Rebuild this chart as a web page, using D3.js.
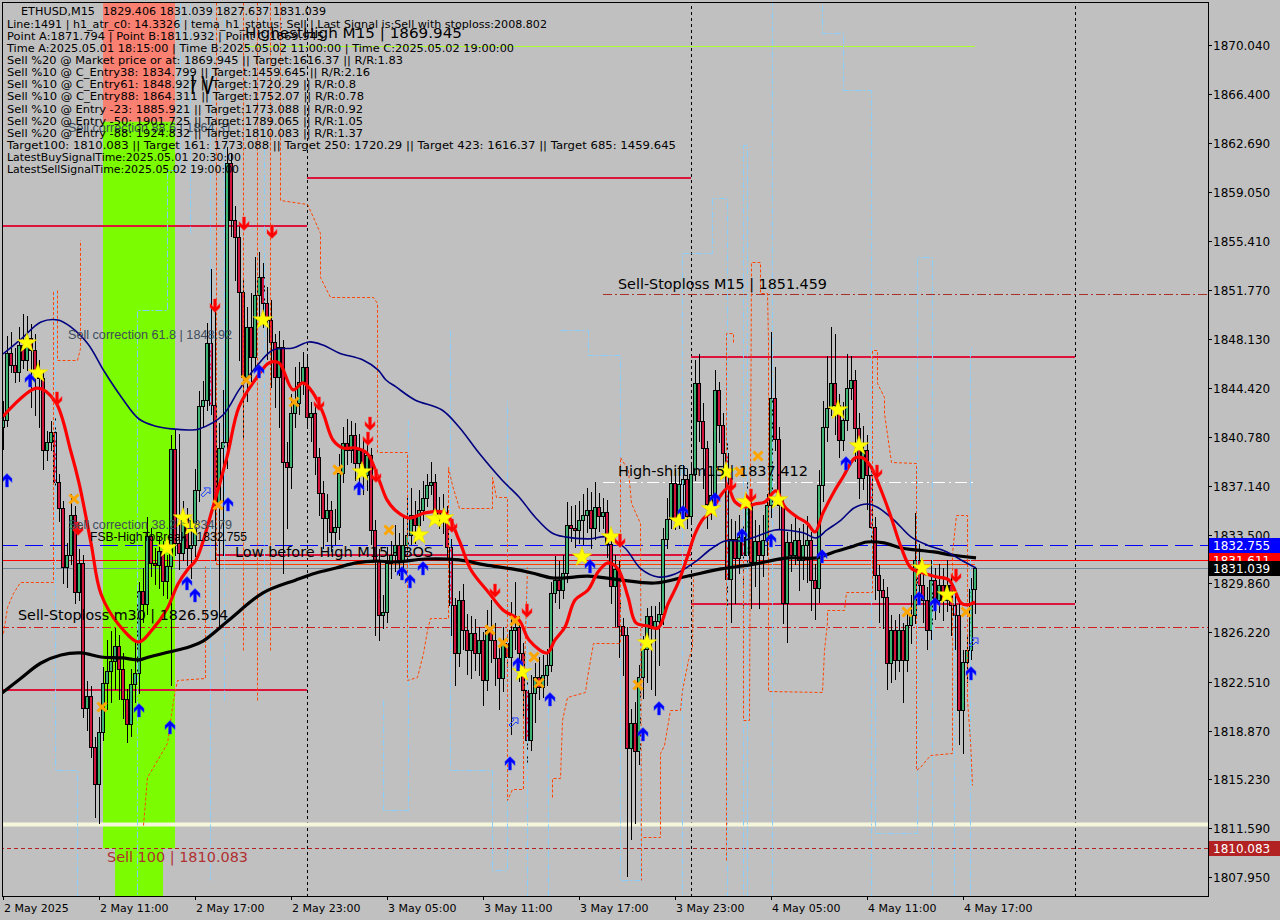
<!DOCTYPE html>
<html><head><meta charset="utf-8">
<script src="https://cdn.jsdelivr.net/npm/d3@7"></script>
<style>html,body{margin:0;padding:0;background:#c0c0c0;}svg{display:block}</style>
</head><body><svg id="c" width="1280" height="920"></svg>
<script>
// ===== DATA =====
const firstOpen = 1841.50;
const closes = [1842.06,1847.06,1846.16,1845.64,1847.65,1846.53,1848.18,1847.28,1845.79,1845.19,
1839.82,1840.42,1841.16,1837.43,1835.49,1831.09,1831.98,1834.97,1829.22,1831.39,
1820.56,1821.46,1817.65,1814.89,1818.77,1822.43,1823.33,1824.07,1825.19,1823.48,
1821.24,1819.37,1822.36,1823.18,1829.30,1828.33,1833.40,1831.39,1831.24,1832.28,
1830.04,1831.16,1839.89,1832.88,1832.13,1834.97,1832.50,1832.73,1836.83,1843.10,
1843.55,1847.80,1843.18,1835.86,1839.97,1840.42,1861.24,1856.98,1855.71,1851.61,
1845.27,1849.00,1846.76,1851.39,1852.73,1850.79,1849.52,1847.88,1845.27,1847.50,
1838.92,1838.55,1842.58,1843.33,1844.89,1846.01,1842.28,1842.58,1839.30,1836.61,
1834.74,1835.34,1833.70,1834.07,1838.10,1840.34,1839.82,1840.94,1838.85,1839.82,
1837.95,1839.45,1833.85,1831.61,1827.50,1827.73,1831.39,1831.98,1832.73,1831.61,
1832.73,1833.48,1834.97,1834.22,1835.34,1836.24,1837.21,1837.43,1835.19,1834.97,
1834.59,1832.58,1828.25,1824.67,1828.62,1826.39,1824.89,1826.16,1824.67,1825.64,
1822.65,1826.39,1825.64,1824.30,1822.80,1825.42,1824.37,1826.39,1826.61,1824.67,
1821.91,1818.18,1821.68,1822.88,1822.13,1823.03,1823.77,1829.15,1830.12,1829.37,
1830.64,1834.22,1834.00,1833.85,1834.59,1834.97,1835.34,1834.00,1835.56,1834.89,
1835.19,1832.80,1829.67,1830.94,1826.68,1826.01,1817.58,1819.45,1817.36,1822.88,
1824.97,1827.43,1826.53,1827.06,1827.58,1833.18,1834.67,1837.36,1834.67,1837.28,
1837.65,1834.89,1838.03,1844.82,1841.98,1839.97,1835.79,1836.46,1844.30,1841.68,
1839.59,1830.19,1833.18,1831.76,1833.33,1831.98,1835.71,1831.46,1833.03,1831.98,
1833.10,1835.71,1843.70,1840.64,1835.71,1828.40,1832.95,1831.98,1833.10,1831.61,
1832.73,1833.10,1830.12,1829.52,1837.21,1841.53,1842.95,1844.82,1843.18,1840.56,
1842.06,1844.45,1845.04,1841.46,1837.73,1839.82,1837.95,1834.07,1830.49,1829.37,
1828.85,1823.92,1826.39,1824.15,1826.39,1824.15,1826.76,1827.50,1831.61,1829.74,
1828.62,1826.39,1830.12,1828.62,1829.74,1828.62,1829.74,1828.25,1827.50,1820.42,
1824.00,1824.89,1829.406,1831.039];
const highs = [1843.5,1848.3,1848.6,1847.4,1849.0,1850.0,1849.8,1849.2,1848.5,1846.5,
1845.8,1841.2,1842.0,1842.2,1838.0,1836.0,1832.9,1836.5,1835.6,1832.4,
1832.0,1822.6,1822.2,1818.4,1819.9,1823.6,1825.6,1826.3,1826.5,1826.0,
1824.7,1822.0,1823.5,1825.5,1830.0,1831.0,1834.8,1834.0,1832.5,1833.3,
1833.0,1832.0,1840.9,1841.3,1841.0,1836.0,1835.5,1834.0,1838.4,1844.2,
1845.0,1849.3,1853.3,1850.8,1841.8,1844.3,1862.4,1862.0,1858.0,1856.5,
1852.5,1850.5,1851.5,1854.2,1854.6,1853.8,1852.0,1851.0,1848.5,1848.7,
1848.0,1840.4,1844.0,1846.0,1846.4,1847.1,1847.0,1843.4,1843.2,1840.0,
1837.5,1836.5,1836.0,1835.4,1839.5,1841.5,1842.1,1842.0,1841.8,1841.0,
1840.7,1840.2,1840.0,1834.6,1832.4,1829.0,1832.6,1833.0,1834.2,1833.6,
1835.0,1836.2,1837.0,1836.0,1836.8,1837.5,1838.0,1838.9,1838.0,1836.3,
1836.5,1835.6,1833.2,1828.8,1829.3,1829.8,1827.6,1827.4,1827.2,1826.6,
1826.2,1827.9,1828.6,1826.9,1825.2,1826.6,1826.3,1828.5,1830.0,1827.4,
1825.4,1822.6,1823.0,1823.9,1824.4,1824.5,1825.0,1830.0,1831.9,1831.5,
1832.0,1835.9,1835.6,1835.7,1836.0,1836.5,1837.0,1836.7,1837.4,1836.6,
1836.2,1836.1,1833.6,1832.0,1831.5,1827.3,1826.6,1820.5,1821.0,1823.8,
1825.9,1828.0,1828.2,1828.2,1828.5,1834.0,1836.2,1838.3,1838.3,1838.6,
1838.7,1838.4,1838.8,1846.5,1847.0,1843.3,1840.5,1838.0,1845.8,1844.9,
1842.6,1840.4,1834.7,1834.5,1835.0,1834.5,1837.5,1836.8,1834.6,1834.2,
1835.0,1836.5,1848.6,1846.0,1841.5,1836.3,1833.7,1834.3,1834.8,1834.0,
1834.3,1834.9,1833.7,1831.3,1838.3,1843.5,1846.8,1849.0,1848.5,1844.0,
1843.4,1847.0,1846.8,1845.8,1842.6,1841.6,1840.9,1838.5,1834.8,1831.2,
1830.2,1829.6,1827.5,1827.1,1827.6,1826.9,1827.9,1829.0,1835.1,1832.8,
1831.2,1829.6,1831.6,1831.0,1831.3,1831.0,1831.6,1830.5,1829.0,1828.6,
1824.9,1826.0,1830.3,1831.039];
const lows = [1839.9,1841.6,1845.6,1844.9,1845.0,1845.9,1845.8,1843.0,1842.4,1841.5,
1838.4,1839.1,1839.8,1836.8,1834.5,1829.9,1829.6,1831.3,1828.4,1828.6,
1819.9,1818.9,1816.9,1812.4,1812.0,1818.2,1820.5,1821.0,1822.0,1821.2,
1819.8,1818.0,1818.5,1821.0,1821.7,1827.0,1827.6,1830.4,1829.8,1829.5,
1829.0,1828.8,1822.3,1832.0,1830.9,1831.6,1831.2,1830.3,1831.9,1836.0,
1841.6,1842.8,1842.5,1831.6,1826.6,1832.0,1838.5,1855.8,1852.5,1846.5,
1840.8,1843.5,1845.0,1845.8,1849.8,1849.0,1846.6,1844.5,1843.0,1841.5,
1830.6,1834.0,1837.0,1841.5,1842.5,1844.0,1841.6,1840.5,1838.0,1835.0,
1832.5,1833.0,1832.3,1832.8,1833.2,1837.4,1838.8,1838.9,1837.6,1837.4,
1836.5,1836.8,1832.8,1826.0,1825.6,1826.5,1827.0,1830.3,1830.8,1830.5,
1830.9,1831.5,1832.8,1832.9,1833.5,1834.6,1835.6,1836.5,1834.5,1834.0,
1833.6,1831.8,1826.0,1822.3,1823.7,1825.0,1823.1,1822.8,1823.4,1823.0,
1820.8,1821.9,1824.0,1822.3,1820.5,1821.8,1823.0,1818.6,1825.0,1822.6,
1820.0,1816.5,1817.4,1819.5,1821.2,1821.4,1822.3,1823.3,1828.5,1828.0,
1828.8,1830.0,1833.0,1832.6,1832.9,1832.8,1833.7,1832.5,1833.2,1833.8,
1834.0,1831.8,1828.4,1826.7,1824.4,1823.0,1808.0,1810.8,1812.0,1816.4,
1821.3,1822.5,1822.0,1821.5,1823.8,1826.8,1832.5,1834.0,1833.9,1834.0,
1835.5,1834.0,1834.5,1837.6,1840.5,1837.0,1834.0,1834.7,1836.0,1840.4,
1837.8,1828.2,1827.0,1828.4,1830.6,1828.0,1831.3,1828.0,1829.7,1828.0,
1830.4,1832.0,1834.8,1839.8,1834.0,1826.9,1825.5,1830.8,1831.3,1829.4,
1830.2,1830.0,1827.9,1827.2,1828.5,1836.0,1840.5,1842.4,1841.0,1839.3,
1839.8,1841.3,1843.6,1839.0,1836.2,1836.9,1835.4,1832.6,1828.7,1827.0,
1826.5,1822.0,1822.5,1822.7,1823.3,1821.0,1823.3,1825.4,1826.9,1828.4,
1827.0,1825.0,1825.7,1827.2,1827.7,1827.1,1827.8,1826.0,1825.0,1817.9,
1817.2,1822.5,1824.2,1827.637];

const timeLabelBars = [0,24,48,72,96,120,144,168,192,216,240];
const timeLabels = ["2 May 2025","2 May 11:00","2 May 17:00","2 May 23:00","3 May 05:00","3 May 11:00","3 May 17:00","3 May 23:00","4 May 05:00","4 May 11:00","4 May 17:00"];
const priceTicks = [1870.040,1866.400,1862.690,1859.050,1855.410,1851.770,1848.130,1844.420,1840.780,1837.140,1833.500,1829.860,1826.220,1822.510,1818.870,1815.230,1811.590,1807.950];
const daySeparatorBars = [76,172,268];

const temaLine = [[0,1842.31],[8.5,1844.44],[13,1843.47],[17,1839.67],[19,1837.36],[22,1832.88],[24.5,1829.07],[29,1826.76],[34,1825.49],[37.25,1826.39],[41,1827.95],[43.75,1829.82],[46.25,1830.94],[48.25,1831.61],
[52.5,1835.56],[56,1839.30],[59,1843.03],[63,1845.04],[66.5,1846.31],[69,1846.31],[72.5,1844.30],[75,1844.82],[77.5,1844.07],[80,1842.58],[82.5,1840.56],[85,1839.97],[88,1839.97],[91,1839.59],[94,1837.58],[96,1836.09],[98,1835.34],
[101.5,1834.74],[105.5,1835.12],[110.5,1835.12],[114,1833.10],[117,1830.86],[121.5,1829.15],[125,1827.88],[129,1827.13],[131.5,1825.64],[136,1824.67],[138,1825.64],[140.5,1826.61],[143,1828.62],
[146.25,1829.37],[148.75,1830.71],[151.25,1831.39],[153.75,1830.94],[156.25,1828.85],[158.25,1826.91],[161.25,1826.68],[163.75,1826.53],[166.25,1828.33],[168.75,1829.89],[171.25,1831.98],[173,1833.55],[175,1834.67],[177,1835.19],[179.5,1836.46],[181.25,1836.98],[183,1835.94],[185.5,1835.56],[188,1835.79],[190.5,1835.94],[193.25,1836.76],
[195.5,1835.56],[198.5,1834.82],[201,1834.37],[203,1833.70],[205,1835.12],[208,1836.83],[210,1837.80],[213,1839.22],[215,1839.22],[217,1838.55],[219.5,1836.83],[222,1834.82],[224.5,1832.58],[227,1831.01],[230,1830.64],[233.5,1830.34],[236.5,1830.12],[239.5,1828.40],[241,1828.25],[243,1828.48]];
const navyLine = [[0,1846.98],[4.3,1848.03],[9.5,1849.37],[13.75,1849.52],[17,1848.99],[21.25,1847.73],[25.25,1845.71],[29.75,1843.70],[34,1842.13],[38,1841.61],[42.25,1841.39],[46.75,1841.31],[49,1841.39],
[55,1842.43],[59,1844.30],[63.25,1846.01],[67.5,1847.28],[72.5,1847.43],[76.5,1847.88],[80,1847.65],[84,1847.06],[90,1846.53],[93.75,1845.79],[95.75,1845.04],[98.25,1844.52],
[103,1843.55],[109.75,1842.80],[114,1841.53],[119,1839.59],[124.75,1837.58],[129,1836.31],[133,1834.82],[137.25,1833.62],[140.5,1833.33],
[146.25,1833.18],[151.25,1833.33],[155.5,1832.50],[159.5,1830.94],[163.75,1830.34],[168,1830.56],[173,1831.46],[177,1832.43],[180.5,1833.03],[184.5,1833.03],[188,1833.33],[193,1833.85],
[195.25,1833.85],[200.25,1833.62],[203.25,1833.25],[206,1833.85],[209.5,1834.59],[212.75,1835.49],[216,1835.79],[218.5,1835.56],[222.75,1834.59],[227,1833.33],[231,1832.73],[236,1832.21],[239.5,1831.61],[243.25,1831.01]];
const slowLine = [[-1,1821.5],[4.25,1822.73],[9.5,1823.92],[14.5,1824.52],[19.5,1824.67],[24.5,1824.37],[29.75,1824.30],[34,1824.15],[36.5,1824.37],[41.5,1824.74],[46.5,1825.12],[50,1825.56],
[56.5,1827.13],[65,1829.15],[73.25,1830.12],[78.25,1830.64],[83.25,1831.01],[88.25,1831.39],[93.25,1831.53],[98.25,1831.46],
[105.5,1831.68],[114,1831.61],[120.5,1831.24],[127.25,1830.94],[132.25,1830.64],[137.25,1830.27],[140.5,1830.27],
[146.25,1830.41],[154.25,1830.12],[163,1829.89],[171.25,1830.41],[179.5,1830.94],[186.75,1831.24],[196.25,1831.76],
[203.5,1831.76],[207.75,1832.21],[212,1832.58],[216,1832.95],[220.25,1832.88],[224.5,1832.50],[228.5,1832.35],[232.75,1832.21],[237,1831.98],[243.25,1831.76]];

const orangePaths = [
 [[0,1826.16],[1,1828.10],[2.5,1829.15],[4.25,1829.97],[12.5,1829.97],[12.5,1851.76]],
 [[13.5,1851.76],[13.5,1846.53],[18.5,1846.53],[19.25,1847.43],[19.25,1855.49]],
 [[35,1811.83],[36,1815.42],[39.25,1817.06],[41,1817.95],[42.5,1821.16],[43.5,1822.65],[50.5,1822.80],[50.5,1831.16]],
 [[53.25,1874],[53.25,1831.31]],
 [[60,1874],[60,1824.89]],
 [[63.5,1874],[63.5,1821.16]],
 [[66.75,1874],[66.75,1824.89]],
 [[69.25,1874],[69.25,1858.47],[76,1858.18],[77.5,1857.21],[79.25,1856.01],[79.25,1852.73],[81.75,1851.24],[92.5,1851.24],[93.5,1850.79],[93.5,1839.67],[101,1839.67],[101,1822.65],[103.5,1822.88],[105,1824.67],[106,1826.39],[106.75,1827.28],[111.25,1827.28],[111.25,1838.55],[112.25,1837.21],[114,1835.49],[122.25,1835.49],[122.25,1837.80],[123.25,1836.31],[126,1836.31],[126,1813.70],[127.25,1814.52],[130,1814.52],[130,1820.94],[131,1831.09]],
 [[137.25,1813.92],[137.25,1815.34],[139.25,1815.34],[139.75,1819.67],[141,1821.39],[145.5,1821.76],[146,1822.88],[147.5,1825.42],[154.25,1825.42],[154.25,1839.30],[156.25,1838.33],[157,1835.86],[159.25,1834.37],[159.5,1807.73]],
 [[160,1810.94],[164.25,1810.94],[164.25,1817.21],[165.25,1817.80],[166.75,1820.42],[169.25,1820.42],[169.75,1821.91],[171.25,1824.15],[172.25,1825.12],[172.5,1830.42]],
 [[180.75,1809.22],[180.75,1848.55],[182.5,1848.55],[182.5,1847.80]],
 [[185,1831.61],[185,1819.67],[186.5,1819.67],[187,1853.85],[189.25,1853.85],[189.25,1851.53],[191,1851.53],[191.25,1848.03],[191.25,1821.83],[204.75,1821.76],[205.25,1824.89],[206,1826.98],[206,1827.88],[210.25,1827.88],[210.75,1829.22],[217.25,1829.22],[217.25,1847.28],[218.5,1847.28],[218.5,1844.82],[220.25,1843.77],[220.25,1842.58],[222,1838.92],[228.25,1838.85],[228.25,1815.94],[229.25,1816.16],[231.75,1817.06],[237.25,1817.21],[237.25,1832.13],[238.25,1834.97],[241,1834.97],[241,1821.16],[241.75,1818.18],[242.25,1814.82]]
];
const lightBluePaths = [
 [[13,1851.76],[13,1815.94],[18.5,1815.94],[18.5,1806]],
 [[33.5,1806],[33.5,1850.27],[41,1850.27],[41,1860.71],[44.25,1860.71],[44.25,1874]],
 [[46.75,1874],[46.75,1856.01]],
 [[51.75,1874],[51.75,1807.73]],
 [[55.25,1874],[55.25,1821.16]],
 [[65.25,1874],[65.25,1825.64]],
 [[95,1821.16],[95,1812.95],[101.25,1812.95],[101.25,1842.06]],
 [[111.75,1848.77],[111.75,1815.94],[122.25,1815.94],[122.25,1808.48],[126,1808.48],[126,1843.55]],
 [[131,1830.12],[131,1806]],
 [[136.25,1820.64],[136.25,1806]],
 [[139.25,1848.77],[146.25,1848.77],[146.25,1846.91],[154.25,1846.91],[154.25,1807.73],[159.25,1807.73],[159.25,1830.12]],
 [[169.75,1806],[169.75,1854.52],[177.25,1854.52],[177.25,1858.62],[181,1858.62],[181,1806]],
 [[185,1806],[185,1862.58],[186,1862.58],[186,1806]],
 [[192.25,1806],[192.25,1873.18]],
 [[204.75,1874],[204.75,1870.94],[210,1870.94],[210,1866.68],[217,1866.68],[217,1806]],
 [[218,1824.89],[218,1811.24],[228.5,1811.24],[228.5,1854.22],[232.25,1854.22],[232.25,1806]],
 [[237.75,1830.12],[237.75,1806]],
 [[241.75,1806],[241.75,1847.28],[242.5,1847.65]]
];

const stars = [[6,1847.80],[8.75,1845.56],[41,1832.50],[45,1834.74],[47,1834.07],[65,1849.52],[89.75,1838.18],[104,1833.47],[108,1834.67],[110.25,1834.74],[129.75,1823.25],[144.75,1831.83],[152,1833.33],[161,1825.42],[169,1834.52],[177,1835.42],[180.75,1838.18],[185.75,1835.94],[193.75,1836.09],[208.75,1842.80],[214,1840.12],[229.75,1831.01],[236,1829.00]];
const sellArrows = [[13.5,1843.55],[18.75,1833.85],[53,1850.49],[60.25,1856.61],[67.25,1856.01],[79,1843.18],[91.75,1841.68],[91.25,1840.56],[93.25,1837.80],[112.25,1834.07],[123,1829.22],[131,1827.73],[154.25,1832.95],[182,1837.13],[187,1836.31],[218.5,1838.10],[238.25,1830.34]];
const buyArrows = [[1,1837.65],[6.75,1845.12],[34,1820.49],[41.75,1819.22],[46,1829.97],[48,1829.07],[56.25,1835.86],[64,1845.79],[89,1837.06],[99.75,1830.71],[101.75,1830.12],[105,1831.09],[126.75,1816.53],[128.75,1823.92],[136.75,1821.31],[146.75,1831.24],[160,1818.70],[164,1820.64],[170,1835.27],[178,1836.24],[184.75,1833.55],[192,1833.18],[204.75,1831.98],[210.75,1838.92],[229,1828.85],[233,1828.40],[242,1823.25]];
const crosses = [[17.75,1836.16],[24.75,1820.64],[53.75,1835.71],[60.75,1845.04],[72.75,1843.40],[83.75,1838.33],[96.5,1833.85],[121.75,1826.39],[125,1825.42],[128,1827.06],[132.75,1824.37],[134,1822.43],[158.75,1822.28],[184.25,1838.18],[188.75,1839.37],[226,1827.73],[240.75,1827.73]];
const hollowArrows = [[50.75,1836.69],[127.75,1819.52],[242.75,1825.49]];

const sessionLevels = [{from:-1,to:76,price:1856.53},{from:76,to:172,price:1860.12},{from:172,to:268,price:1846.76},{from:-1,to:76,price:1821.91},{from:172,to:268,price:1828.33}];
const levelBlue = 1832.755, levelRed = 1831.611, levelBid = 1831.039, levelSLm30 = 1826.594,
      levelPointB = 1811.932, levelSell100 = 1810.083, levelSLM15 = 1851.459, levelHighShift = 1837.412,
      levelHighest = 1869.945, levelLBH = 1831.95, levelLBHorange = 1831.31, levelEntry88 = 1864.311;
const bandBars = [25,43], bandNarrowBars = [28,40];

const infoLines = [
 "Line:1491 | h1_atr_c0: 14.3326 | tema_h1_status: Sell | Last Signal is:Sell with stoploss:2008.802",
 "Point A:1871.794 | Point B:1811.932 | Point C:1869.945",
 "Time A:2025.05.01 18:15:00 | Time B:2025.05.02 11:00:00 | Time C:2025.05.02 19:00:00",
 "Sell %20 @ Market price or at: 1869.945 || Target:1616.37 || R/R:1.83",
 "Sell %10 @ C_Entry38: 1834.799 || Target:1459.645 || R/R:2.16",
 "Sell %10 @ C_Entry61: 1848.927 || Target:1720.29 || R/R:0.8",
 "Sell %10 @ C_Entry88: 1864.311 || Target:1752.07 || R/R:0.78",
 "Sell %10 @ Entry -23: 1885.921 || Target:1773.088 || R/R:0.92",
 "Sell %20 @ Entry -50: 1901.725 || Target:1789.065 || R/R:1.05",
 "Sell %20 @ Entry -88: 1924.832 || Target:1810.083 || R/R:1.37",
 "Target100: 1810.083 || Target 161: 1773.088 || Target 250: 1720.29 || Target 423: 1616.37 || Target 685: 1459.645",
 "LatestBuySignalTime:2025.05.01 20:30:00",
 "LatestSellSignalTime:2025.05.02 19:00:00"];
const infoWidths = [540,317,507,396,363,349,357,356,356,356,669,234,232];

// ===== DRAW =====
const svg = d3.select("#c");
const W = 1280, H = 920, PR = 1208, PB = 896;
const x = d3.scaleLinear().domain([0,243]).range([3,975]);
const y = d3.scaleLinear().domain([1807.95,1870.04]).range([877,45]);
const FONT = "DejaVu Sans, Verdana, sans-serif";
const FONT2 = "Liberation Sans, Arial, sans-serif";

svg.append("rect").attr("width",W).attr("height",H).attr("fill","#c0c0c0");
const defs = svg.append("defs");
defs.append("clipPath").attr("id","plot").append("rect").attr("x",3).attr("y",3).attr("width",PR-3).attr("height",PB-3);
const g = svg.append("g").attr("clip-path","url(#plot)");

// bands
const bx0 = x(bandBars[0]), bx1 = x(bandBars[1]);
g.append("rect").attr("x",bx0).attr("y",0).attr("width",bx1-bx0).attr("height",y(levelEntry88)).attr("fill","#fa8072");
g.append("rect").attr("x",bx0).attr("y",y(levelEntry88)).attr("width",bx1-bx0).attr("height",y(levelSell100)-y(levelEntry88)).attr("fill","#7cfc00");
g.append("rect").attr("x",x(bandNarrowBars[0])).attr("y",y(levelSell100)).attr("width",x(bandNarrowBars[1])-x(bandNarrowBars[0])).attr("height",PB).attr("fill","#7cfc00");

const Y = v => Math.round(y(v)) + 0.5;
function hline(price, x0, x1, color, w, dash){
  const l = g.append("line").attr("x1",x0).attr("x2",x1).attr("y1",Y(price)).attr("y2",Y(price))
    .attr("stroke",color).attr("stroke-width",w);
  if(dash) l.attr("stroke-dasharray",dash);
  return l;
}
// day separators
daySeparatorBars.forEach(b=>{
  g.append("line").attr("x1",Math.round(x(b))+0.5).attr("x2",Math.round(x(b))+0.5).attr("y1",0).attr("y2",PB)
   .attr("stroke","#000").attr("stroke-dasharray","3,3");
});
// session levels
sessionLevels.forEach(s=>{
  g.append("line").attr("x1",x(s.from)).attr("x2",x(s.to)).attr("y1",Math.round(y(s.price))).attr("y2",Math.round(y(s.price)))
   .attr("stroke","#dc143c").attr("stroke-width",2);
});
hline(levelHighest, x(60.5), x(243), "#adff2f", 1);
hline(levelSLM15, x(150), PR, "#a83228", 1, "9,3,2,3");
hline(levelHighShift, x(150), x(243), "#ffffff", 1, "12,4,2,4");
hline(levelPointB, 0, PR, "#f5f5dc", 4);
hline(levelSell100, 0, PR, "#b22222", 1, "4,3");
hline(levelSLm30, 0, PR, "#d01e1e", 1, "9,3,2,3");
hline(levelBlue, 0, PR, "#0000ff", 1, "18,7");
g.append("line").attr("x1",x(53)).attr("x2",x(172)).attr("y1",Math.round(y(levelLBH))).attr("y2",Math.round(y(levelLBH))).attr("stroke","#dc143c").attr("stroke-width",2);
hline(levelRed, 0, PR, "#ff0000", 1);
hline(levelLBHorange, x(53.25), x(243), "#ff4500", 1);
hline(levelBid, 0, PR, "#778899", 1);

// candles
const cg = g.append("g");
closes.forEach((c,i)=>{
  const o = i ? closes[i-1] : firstOpen;
  const cx = Math.round(x(i));
  const hi = Math.max(highs[i], o, c), lo = Math.min(lows[i], o, c);
  cg.append("line").attr("x1",cx+0.5).attr("x2",cx+0.5).attr("y1",Math.round(y(hi))).attr("y2",Math.round(y(lo))+1)
    .attr("stroke","#000").attr("stroke-width",1);
  const top = Math.round(y(Math.max(o,c))), bot = Math.round(y(Math.min(o,c)));
  cg.append("rect").attr("x",cx-1.5).attr("y",top+0.5).attr("width",3).attr("height",Math.max(1,bot-top))
    .attr("fill", c>=o ? "#3cb371" : "#d2143c").attr("stroke","#000").attr("stroke-width",1);
});

// dashed stepped indicator lines
const pl = d3.line().x(d=>Math.round(x(d[0]))+0.5).y(d=>Math.round(y(d[1]))+0.5);
lightBluePaths.forEach(p=>g.append("path").attr("d",pl(p)).attr("fill","none").attr("stroke","#87cefa").attr("stroke-width",1).attr("stroke-dasharray","7,2,2,2"));
orangePaths.forEach(p=>g.append("path").attr("d",pl(p)).attr("fill","none").attr("stroke","#ff4500").attr("stroke-width",1).attr("stroke-dasharray","3,2"));

// moving averages
const ml = d3.line().x(d=>x(d[0])).y(d=>y(d[1])).curve(d3.curveCatmullRom.alpha(0.5));
g.append("path").attr("d",ml(slowLine)).attr("fill","none").attr("stroke","#000").attr("stroke-width",3.2);
g.append("path").attr("d",ml(navyLine)).attr("fill","none").attr("stroke","#000080").attr("stroke-width",1.6);
g.append("path").attr("d",ml(temaLine)).attr("fill","none").attr("stroke","#ff0000").attr("stroke-width",3.2);

// markers
const starSym = d3.symbol().type(d3.symbolStar).size(120)();
stars.forEach(d=>g.append("path").attr("d",starSym).attr("transform",`translate(${x(d[0])},${y(d[1])})`).attr("fill","#ffff00").attr("stroke","#e8d000").attr("stroke-width",0.6));
const downArrow = "M-1.5,-8 L1.5,-8 L1.5,0 L5,-3.5 L5,0.5 L0,5.5 L-5,0.5 L-5,-3.5 L-1.5,0 Z";
const upArrow = "M-1.5,8 L1.5,8 L1.5,0 L5,3.5 L5,-0.5 L0,-5.5 L-5,-0.5 L-5,3.5 L-1.5,0 Z";
sellArrows.forEach(d=>g.append("path").attr("d",downArrow).attr("transform",`translate(${x(d[0])},${y(d[1])})`).attr("fill","#ff0000").attr("stroke","#ff4040").attr("stroke-width",0.5));
buyArrows.forEach(d=>g.append("path").attr("d",upArrow).attr("transform",`translate(${x(d[0])},${y(d[1])})`).attr("fill","#0000ff").attr("stroke","#3050ff").attr("stroke-width",0.5));
crosses.forEach(d=>g.append("path").attr("d","M-4.5,-4.5 L4.5,4.5 M4.5,-4.5 L-4.5,4.5").attr("transform",`translate(${x(d[0])},${y(d[1])})`).attr("stroke","#ffa500").attr("stroke-width",3).attr("fill","none"));
hollowArrows.forEach(d=>g.append("path").attr("d","M-5,3 L0,-2 L-2,-4 L4,-4 L4,2 L2,0 L-3,5 Z").attr("transform",`translate(${x(d[0])},${y(d[1])})`).attr("stroke","#2040ff").attr("stroke-width",1).attr("fill","none"));

// chart texts
function label(txt, bar, price, dy, len, size, color, fam){
  g.append("text").attr("x",x(bar)).attr("y",y(price)+dy).attr("font-family",fam||FONT).attr("font-size",size)
   .attr("fill",color).attr("textLength",len).attr("lengthAdjust","spacingAndGlyphs").text(txt);
}
label("Sell correction 88.6 | 1864.31", 16.25, levelEntry88, 10.5, 164, 12, "#3d4d5d", FONT2);
label("Sell correction 61.8 | 1848.92", 16.25, 1848.92, 11, 164, 12, "#3d4d5d", FONT2);
label("Sell correction 38.2 | 1834.79", 16.25, 1834.79, 11.5, 164, 12, "#3d4d5d", FONT2);
label("FSB-HighToBreak | 1832.755", 21.75, levelBlue, -3.5, 157, 12.5, "#000", FONT2);
label("HighestHigh   M15 | 1869.945", 60.5, levelHighest, -8, 217, 14.5, "#000");
label("Sell-Stoploss M15 | 1851.459", 153.75, levelSLM15, -5, 209, 14.5, "#000");
label("High-shift m15 | 1837.412", 153.75, levelHighShift, -6, 190, 14.5, "#000");
label("Sell-Stoploss m30 | 1826.594", 3.75, levelSLm30, -7, 210, 14.5, "#000");
label("Low before High    M15 - BOS", 58, levelLBH, 1.5, 198, 14.5, "#000");
label("Sell 100 | 1810.083", 26, levelSell100, 14, 141, 14.5, "#b03030");
label("I V", 46.75, 1866.39, 0, 24, 24, "#000");

// info block
const ig = svg.append("g").attr("font-family",FONT).attr("font-size",11).attr("fill","#000");
ig.append("text").attr("x",21).attr("y",15).attr("textLength",74).attr("lengthAdjust","spacingAndGlyphs").text("ETHUSD,M15");
ig.append("text").attr("x",103).attr("y",15).attr("textLength",223).attr("lengthAdjust","spacingAndGlyphs").text("1829.406 1831.039 1827.637 1831.039");
infoLines.forEach((t,k)=>{
  ig.append("text").attr("x",7).attr("y",28+k*12.08).attr("textLength",infoWidths[k]).attr("lengthAdjust","spacingAndGlyphs").text(t);
});

// frame & axes
svg.append("rect").attr("x",2.5).attr("y",2.5).attr("width",PR-2).attr("height",PB-2).attr("fill","none").attr("stroke","#000");
const ax = svg.append("g").attr("font-family",FONT).attr("fill","#000");
priceTicks.forEach(p=>{
  const yy = Math.round(y(p))+0.5;
  ax.append("line").attr("x1",PR).attr("x2",PR+4).attr("y1",yy).attr("y2",yy).attr("stroke","#000");
  ax.append("text").attr("x",1213).attr("y",yy+4.5).attr("font-size",12).text(p.toFixed(3));
});
timeLabelBars.forEach((b,k)=>{
  const xx = Math.round(x(b))+0.5;
  ax.append("line").attr("x1",xx).attr("x2",xx).attr("y1",PB).attr("y2",PB+4).attr("stroke","#000");
  ax.append("text").attr("x",xx+0.5).attr("y",912).attr("font-size",11).text(timeLabels[k]);
});
function axisTag(price, bg){
  const yy = y(price);
  ax.append("rect").attr("x",1209).attr("y",Math.round(yy)-7).attr("width",71).attr("height",15).attr("fill",bg);
  ax.append("text").attr("x",1213).attr("y",Math.round(yy)+4.5).attr("font-size",12).attr("fill","#fff").text(price.toFixed(3));
}
axisTag(levelBlue, "#0000ff");
axisTag(levelRed, "#ff0000");
axisTag(levelBid, "#000000");
axisTag(levelSell100, "#b22222");
</script>
</body></html>
